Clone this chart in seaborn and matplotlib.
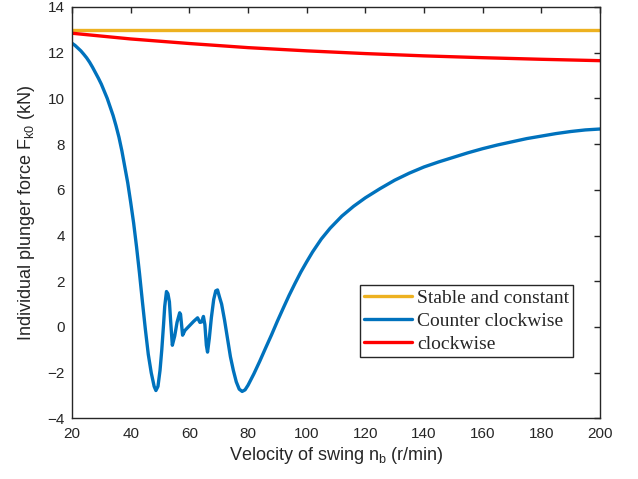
import numpy as np
import pandas as pd
import matplotlib
matplotlib.use('Agg')
import matplotlib.pyplot as plt
import seaborn as sns

# ---- data ----
stable_x = [20, 200]
stable_y = [13.0, 13.0]

cw_x = [20, 40, 60, 80, 100, 120, 140, 160, 180, 200]
cw_y = [12.85, 12.6, 12.4, 12.22, 12.08, 11.96, 11.86, 11.78, 11.71, 11.65]

ccw_x = [20, 21, 22, 23, 24, 25, 26, 27, 28, 29, 30, 32, 34, 35, 36, 37, 38, 39, 40,
         41, 42, 43, 44, 45, 46, 47, 48,
         48.6, 49.3, 50, 50.6, 51.2, 51.6, 52.2, 52.7, 53.2, 53.6, 54.2, 55, 55.8,
         56.7, 57.0, 57.7, 58.5, 60, 61.5, 62.8, 63.6, 64.2, 64.8, 65.3, 65.8, 66.2,
         66.8, 67.5, 68.3, 69.0, 69.6, 70.3, 71, 72, 73, 74, 75, 76, 77, 78, 79, 80,
         82, 84, 86, 88, 90, 92, 94, 96, 98, 100, 102, 105, 108, 112, 116, 120, 125,
         130, 135, 140, 145, 150, 155, 160, 165, 170, 175, 180, 185, 190, 195, 200]
ccw_y = [12.41, 12.32, 12.2, 12.08, 11.93, 11.77, 11.58, 11.36, 11.12, 10.88, 10.62,
         10.0, 9.25, 8.8, 8.3, 7.7, 7.0, 6.3, 5.45,
         4.55, 3.5, 2.35, 1.1, -0.1, -1.2, -2.0, -2.6,
         -2.78, -2.6, -1.9, -1.0, 0.1, 0.9, 1.55, 1.45, 1.1, 0.3, -0.8, -0.4, 0.2,
         0.62, 0.55, -0.36, -0.15, 0.05, 0.25, 0.4, 0.2, 0.22, 0.46, 0.1, -0.8, -1.1,
         -0.5, 0.4, 1.2, 1.58, 1.62, 1.3, 1.0, 0.3, -0.5, -1.3, -1.9, -2.4, -2.72, -2.82, -2.75, -2.55,
         -2.05, -1.5, -0.92, -0.35, 0.25, 0.82, 1.38, 1.9, 2.4, 2.85, 3.28, 3.85, 4.32, 4.85, 5.28, 5.65, 6.05,
         6.42, 6.73, 7.0, 7.22, 7.42, 7.62, 7.8, 7.96, 8.1, 8.24, 8.35, 8.46, 8.55, 8.62, 8.66]

labels = ['Stable and constant', 'Counter clockwise', 'clockwise']
colors = ['#EDB120', '#0072BD', '#FF0000']

df = pd.concat([
    pd.DataFrame({'n': stable_x, 'F': stable_y, 'case': labels[0]}),
    pd.DataFrame({'n': ccw_x, 'F': ccw_y, 'case': labels[1]}),
    pd.DataFrame({'n': cw_x, 'F': cw_y, 'case': labels[2]}),
])

# ---- style ----
sns.set_style('white')
plt.rcParams['font.family'] = ['Liberation Sans', 'DejaVu Sans']
plt.rcParams['mathtext.default'] = 'regular'

fig = plt.figure(figsize=(6.38, 4.79), dpi=100)
ax = fig.add_axes([0.1129, 0.1265, 0.8275, 0.859])

sns.lineplot(data=df, x='n', y='F', hue='case', hue_order=labels,
             palette=dict(zip(labels, colors)), linewidth=2.4,
             estimator=None, sort=False, ax=ax, legend=False)

ax.set_xlim(20, 200)
ax.set_ylim(-4, 14)
ax.set_xticks(np.arange(20, 201, 20))
ax.set_yticks(np.arange(-4, 15, 2))

dark = '#262626'
ax.tick_params(direction='in', top=True, right=True, length=4, width=1,
               labelsize=11, colors=dark)
ax.tick_params(axis='x', pad=6)
ax.tick_params(axis='y', pad=5)
for s in ax.spines.values():
    s.set_visible(True)
    s.set_color(dark)
    s.set_linewidth(1)

ax.set_xlabel('Velocity of swing n$_b$ (r/min)', fontsize=13, color=dark, labelpad=3)
ax.set_ylabel('Individual plunger force F$_{k0}$ (kN)', fontsize=13, color=dark, labelpad=8)

handles = [plt.Line2D([], [], color=c, lw=2.4) for c in colors]
leg = ax.legend(handles, labels, loc='upper left', bbox_to_anchor=(0.545, 0.324),
                borderaxespad=0, fancybox=False, framealpha=1, edgecolor=dark,
                handlelength=2.5, handletextpad=0.25, labelspacing=0.28,
                borderpad=0.2, prop={'family': 'Liberation Serif', 'size': 14})
leg.get_frame().set_linewidth(1)

fig.savefig('out.png', dpi=100)
